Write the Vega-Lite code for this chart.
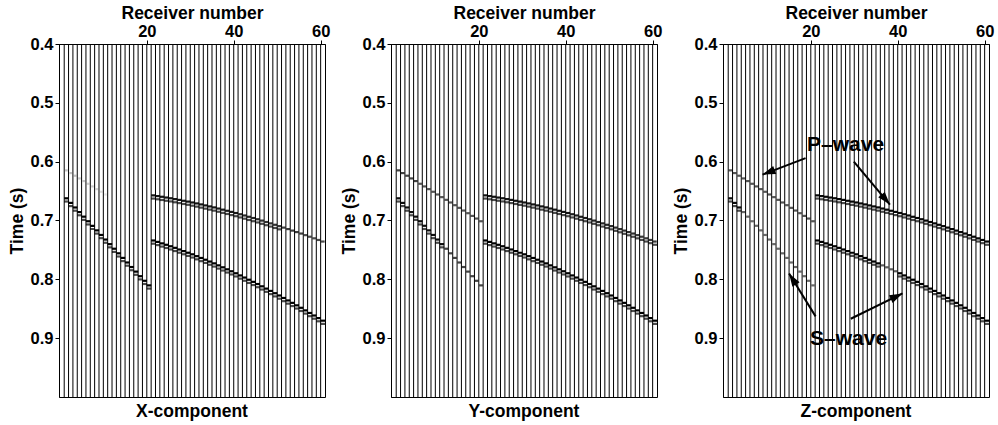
{
  "$schema": "https://vega.github.io/schema/vega-lite/v6.json",
  "padding": {"left": 7, "right": 4, "top": 3, "bottom": 2},
  "spacing": 8,
  "datasets": {
    "traces": [
      {"r":1},{"r":2},{"r":3},{"r":4},{"r":5},{"r":6},{"r":7},{"r":8},{"r":9},{"r":10},
      {"r":11},{"r":12},{"r":13},{"r":14},{"r":15},{"r":16},{"r":17},{"r":18},{"r":19},{"r":20},
      {"r":21},{"r":22},{"r":23},{"r":24},{"r":25},{"r":26},{"r":27},{"r":28},{"r":29},{"r":30},
      {"r":31},{"r":32},{"r":33},{"r":34},{"r":35},{"r":36},{"r":37},{"r":38},{"r":39},{"r":40},
      {"r":41},{"r":42},{"r":43},{"r":44},{"r":45},{"r":46},{"r":47},{"r":48},{"r":49},{"r":50},
      {"r":51},{"r":52},{"r":53},{"r":54},{"r":55},{"r":56},{"r":57},{"r":58},{"r":59},{"r":60}
    ],
    "arrivals": [
      {"r":1,"w":"P","t":0.6175,"X":0.06,"Y":0.55,"Z":0.45},
      {"r":2,"w":"P","t":0.6221,"X":0.06,"Y":0.55,"Z":0.45},
      {"r":3,"w":"P","t":0.6266,"X":0.06,"Y":0.55,"Z":0.45},
      {"r":4,"w":"P","t":0.6312,"X":0.05,"Y":0.55,"Z":0.45},
      {"r":5,"w":"P","t":0.6357,"X":0.05,"Y":0.55,"Z":0.45},
      {"r":6,"w":"P","t":0.6403,"X":0.04,"Y":0.45,"Z":0.45},
      {"r":7,"w":"P","t":0.6448,"X":0.04,"Y":0.45,"Z":0.45},
      {"r":8,"w":"P","t":0.6494,"X":0.03,"Y":0.45,"Z":0.45},
      {"r":9,"w":"P","t":0.6539,"X":0.02,"Y":0.45,"Z":0.45},
      {"r":10,"w":"P","t":0.6585,"X":0.01,"Y":0.45,"Z":0.45},
      {"r":11,"w":"P","t":0.6630,"X":0,"Y":0.45,"Z":0.45},
      {"r":12,"w":"P","t":0.6676,"X":0,"Y":0.45,"Z":0.45},
      {"r":13,"w":"P","t":0.6721,"X":0,"Y":0.45,"Z":0.45},
      {"r":14,"w":"P","t":0.6767,"X":0,"Y":0.45,"Z":0.45},
      {"r":15,"w":"P","t":0.6812,"X":0,"Y":0.45,"Z":0.45},
      {"r":16,"w":"P","t":0.6858,"X":0,"Y":0.45,"Z":0.45},
      {"r":17,"w":"P","t":0.6903,"X":0,"Y":0.45,"Z":0.45},
      {"r":18,"w":"P","t":0.6949,"X":0,"Y":0.45,"Z":0.45},
      {"r":19,"w":"P","t":0.6994,"X":0,"Y":0.45,"Z":0.45},
      {"r":20,"w":"P","t":0.7040,"X":0,"Y":0.45,"Z":0.45},
      {"r":21,"w":"P","t":0.6600,"X":0.85,"Y":0.85,"Z":0.95},
      {"r":22,"w":"P","t":0.6612,"X":0.85,"Y":0.85,"Z":0.95},
      {"r":23,"w":"P","t":0.6624,"X":0.85,"Y":0.85,"Z":0.95},
      {"r":24,"w":"P","t":0.6637,"X":0.85,"Y":0.85,"Z":0.95},
      {"r":25,"w":"P","t":0.6649,"X":0.85,"Y":0.85,"Z":0.95},
      {"r":26,"w":"P","t":0.6663,"X":0.85,"Y":0.85,"Z":0.95},
      {"r":27,"w":"P","t":0.6677,"X":0.85,"Y":0.85,"Z":0.95},
      {"r":28,"w":"P","t":0.6692,"X":0.85,"Y":0.85,"Z":0.95},
      {"r":29,"w":"P","t":0.6706,"X":0.85,"Y":0.85,"Z":0.95},
      {"r":30,"w":"P","t":0.6721,"X":0.85,"Y":0.85,"Z":0.95},
      {"r":31,"w":"P","t":0.6737,"X":0.85,"Y":0.85,"Z":0.95},
      {"r":32,"w":"P","t":0.6754,"X":0.85,"Y":0.85,"Z":0.95},
      {"r":33,"w":"P","t":0.6771,"X":0.85,"Y":0.85,"Z":0.95},
      {"r":34,"w":"P","t":0.6788,"X":0.85,"Y":0.85,"Z":0.95},
      {"r":35,"w":"P","t":0.6805,"X":0.85,"Y":0.85,"Z":0.95},
      {"r":36,"w":"P","t":0.6824,"X":0.8,"Y":0.85,"Z":0.95},
      {"r":37,"w":"P","t":0.6843,"X":0.8,"Y":0.85,"Z":0.95},
      {"r":38,"w":"P","t":0.6862,"X":0.8,"Y":0.85,"Z":0.95},
      {"r":39,"w":"P","t":0.6881,"X":0.8,"Y":0.85,"Z":0.95},
      {"r":40,"w":"P","t":0.6900,"X":0.8,"Y":0.85,"Z":0.95},
      {"r":41,"w":"P","t":0.6921,"X":0.72,"Y":0.78,"Z":0.95},
      {"r":42,"w":"P","t":0.6942,"X":0.72,"Y":0.78,"Z":0.95},
      {"r":43,"w":"P","t":0.6964,"X":0.72,"Y":0.78,"Z":0.95},
      {"r":44,"w":"P","t":0.6985,"X":0.72,"Y":0.78,"Z":0.95},
      {"r":45,"w":"P","t":0.7006,"X":0.72,"Y":0.78,"Z":0.95},
      {"r":46,"w":"P","t":0.7029,"X":0.65,"Y":0.72,"Z":0.95},
      {"r":47,"w":"P","t":0.7053,"X":0.65,"Y":0.72,"Z":0.95},
      {"r":48,"w":"P","t":0.7076,"X":0.65,"Y":0.72,"Z":0.95},
      {"r":49,"w":"P","t":0.7100,"X":0.65,"Y":0.72,"Z":0.95},
      {"r":50,"w":"P","t":0.7123,"X":0.65,"Y":0.72,"Z":0.95},
      {"r":51,"w":"P","t":0.7148,"X":0.58,"Y":0.66,"Z":0.95},
      {"r":52,"w":"P","t":0.7173,"X":0.58,"Y":0.66,"Z":0.95},
      {"r":53,"w":"P","t":0.7199,"X":0.58,"Y":0.66,"Z":0.95},
      {"r":54,"w":"P","t":0.7224,"X":0.58,"Y":0.66,"Z":0.95},
      {"r":55,"w":"P","t":0.7249,"X":0.58,"Y":0.66,"Z":0.95},
      {"r":56,"w":"P","t":0.7276,"X":0.5,"Y":0.6,"Z":0.95},
      {"r":57,"w":"P","t":0.7303,"X":0.5,"Y":0.6,"Z":0.95},
      {"r":58,"w":"P","t":0.7330,"X":0.5,"Y":0.6,"Z":0.95},
      {"r":59,"w":"P","t":0.7358,"X":0.5,"Y":0.6,"Z":0.95},
      {"r":60,"w":"P","t":0.7385,"X":0.5,"Y":0.6,"Z":0.95},
      {"r":1,"w":"S","t":0.6650,"X":1,"Y":0.9,"Z":0.9},
      {"r":2,"w":"S","t":0.6728,"X":1,"Y":0.9,"Z":0.9},
      {"r":3,"w":"S","t":0.6806,"X":1,"Y":0.9,"Z":0.9},
      {"r":4,"w":"S","t":0.6884,"X":1,"Y":0.9,"Z":0.35},
      {"r":5,"w":"S","t":0.6962,"X":1,"Y":0.9,"Z":0.35},
      {"r":6,"w":"S","t":0.7040,"X":1,"Y":0.9,"Z":0.35},
      {"r":7,"w":"S","t":0.7117,"X":1,"Y":0.9,"Z":0.35},
      {"r":8,"w":"S","t":0.7195,"X":1,"Y":0.9,"Z":0.35},
      {"r":9,"w":"S","t":0.7273,"X":1,"Y":0.9,"Z":0.35},
      {"r":10,"w":"S","t":0.7351,"X":1,"Y":0.9,"Z":0.35},
      {"r":11,"w":"S","t":0.7429,"X":1,"Y":0.9,"Z":0.35},
      {"r":12,"w":"S","t":0.7507,"X":1,"Y":0.55,"Z":0.35},
      {"r":13,"w":"S","t":0.7585,"X":1,"Y":0.55,"Z":0.35},
      {"r":14,"w":"S","t":0.7663,"X":1,"Y":0.55,"Z":0.35},
      {"r":15,"w":"S","t":0.7741,"X":1,"Y":0.55,"Z":0.35},
      {"r":16,"w":"S","t":0.7818,"X":1,"Y":0.55,"Z":0.35},
      {"r":17,"w":"S","t":0.7896,"X":1,"Y":0.55,"Z":0.35},
      {"r":18,"w":"S","t":0.7974,"X":1,"Y":0.55,"Z":0.35},
      {"r":19,"w":"S","t":0.8052,"X":1,"Y":0.55,"Z":0.35},
      {"r":20,"w":"S","t":0.8130,"X":1,"Y":0.55,"Z":0.35},
      {"r":21,"w":"S","t":0.7367,"X":1,"Y":1,"Z":1},
      {"r":22,"w":"S","t":0.7391,"X":1,"Y":1,"Z":1},
      {"r":23,"w":"S","t":0.7416,"X":1,"Y":1,"Z":1},
      {"r":24,"w":"S","t":0.7440,"X":1,"Y":1,"Z":1},
      {"r":25,"w":"S","t":0.7465,"X":1,"Y":1,"Z":1},
      {"r":26,"w":"S","t":0.7492,"X":1,"Y":1,"Z":1},
      {"r":27,"w":"S","t":0.7520,"X":1,"Y":1,"Z":1},
      {"r":28,"w":"S","t":0.7547,"X":1,"Y":1,"Z":1},
      {"r":29,"w":"S","t":0.7575,"X":1,"Y":1,"Z":1},
      {"r":30,"w":"S","t":0.7602,"X":1,"Y":1,"Z":1},
      {"r":31,"w":"S","t":0.7633,"X":1,"Y":1,"Z":1},
      {"r":32,"w":"S","t":0.7664,"X":1,"Y":1,"Z":1},
      {"r":33,"w":"S","t":0.7694,"X":1,"Y":1,"Z":1},
      {"r":34,"w":"S","t":0.7725,"X":1,"Y":1,"Z":1},
      {"r":35,"w":"S","t":0.7756,"X":1,"Y":1,"Z":1},
      {"r":36,"w":"S","t":0.7790,"X":1,"Y":1,"Z":0.4},
      {"r":37,"w":"S","t":0.7823,"X":1,"Y":1,"Z":0.4},
      {"r":38,"w":"S","t":0.7857,"X":1,"Y":1,"Z":0.4},
      {"r":39,"w":"S","t":0.7890,"X":1,"Y":1,"Z":0.4},
      {"r":40,"w":"S","t":0.7924,"X":1,"Y":1,"Z":1},
      {"r":41,"w":"S","t":0.7961,"X":1,"Y":1,"Z":1},
      {"r":42,"w":"S","t":0.7997,"X":1,"Y":1,"Z":1},
      {"r":43,"w":"S","t":0.8034,"X":1,"Y":1,"Z":1},
      {"r":44,"w":"S","t":0.8070,"X":1,"Y":1,"Z":1},
      {"r":45,"w":"S","t":0.8107,"X":1,"Y":1,"Z":1},
      {"r":46,"w":"S","t":0.8146,"X":1,"Y":1,"Z":1},
      {"r":47,"w":"S","t":0.8185,"X":1,"Y":1,"Z":1},
      {"r":48,"w":"S","t":0.8224,"X":1,"Y":1,"Z":1},
      {"r":49,"w":"S","t":0.8263,"X":1,"Y":1,"Z":1},
      {"r":50,"w":"S","t":0.8302,"X":1,"Y":1,"Z":1},
      {"r":51,"w":"S","t":0.8344,"X":1,"Y":1,"Z":1},
      {"r":52,"w":"S","t":0.8386,"X":1,"Y":1,"Z":1},
      {"r":53,"w":"S","t":0.8427,"X":1,"Y":1,"Z":1},
      {"r":54,"w":"S","t":0.8469,"X":1,"Y":1,"Z":1},
      {"r":55,"w":"S","t":0.8511,"X":1,"Y":1,"Z":1},
      {"r":56,"w":"S","t":0.8555,"X":1,"Y":1,"Z":1},
      {"r":57,"w":"S","t":0.8599,"X":1,"Y":1,"Z":1},
      {"r":58,"w":"S","t":0.8642,"X":1,"Y":1,"Z":1},
      {"r":59,"w":"S","t":0.8686,"X":1,"Y":1,"Z":1},
      {"r":60,"w":"S","t":0.8730,"X":1,"Y":1,"Z":1}
    ],
    "labels": [
      {"label":"P–wave","r":28.0,"t":0.572},
      {"label":"S–wave","r":28.7,"t":0.902}
    ],
    "arrows": [
      {"id":"p1","r0":18.8,"t0":0.594,"r1":8.9,"t1":0.622},
      {"id":"p2","r0":29.9,"t0":0.600,"r1":38.2,"t1":0.673},
      {"id":"s1","r0":21.1,"t0":0.863,"r1":15.0,"t1":0.790},
      {"id":"s2","r0":29.2,"t0":0.867,"r1":41.1,"t1":0.824}
    ]
  },
  "hconcat": [
    {
      "width": 266, "height": 353,
      "title": {"text": "X-component", "orient": "bottom", "frame": "group", "anchor": "middle", "fontSize": 17.5, "fontWeight": "bold", "offset": 5},
      "layer": [
        {
          "data": {"name": "traces"},
          "mark": {"type": "rule", "color": "black", "strokeWidth": 1},
          "encoding": {
            "x": {"field": "r", "type": "quantitative", "title": "Receiver number", "scale": {"domain": [-0.2, 61], "nice": false, "zero": false}, "axis": {"orient": "top", "values": [20, 40, 60], "tickSize": 4, "labelPadding": 1, "titlePadding": 1, "labelFlush": false}}
          }
        },
        {
          "data": {"name": "arrivals"},
          "transform": [{"filter": "datum.X > 0"}],
          "mark": {"type": "tick", "orient": "horizontal", "color": "black", "thickness": 2.2, "xOffset": 2.2, "yOffset": -1.6},
          "encoding": {
            "x": {"field": "r", "type": "quantitative", "title": "Receiver number", "scale": {"domain": [-0.2, 61], "nice": false, "zero": false}, "axis": {"orient": "top", "values": [20, 40, 60], "tickSize": 4, "labelPadding": 1, "titlePadding": 1, "labelFlush": false}},
            "y": {"field": "t", "type": "quantitative", "title": "Time (s)", "scale": {"domain": [0.4, 1.0], "reverse": true, "nice": false, "zero": false}, "axis": {"values": [0.4, 0.5, 0.6, 0.7, 0.8, 0.9], "format": ".1f", "tickSize": 4, "labelPadding": 2, "titlePadding": 4, "labelFlush": false}},
            "size": {"field": "X", "type": "quantitative", "scale": {"domain": [0, 1], "range": [2.6, 4.6]}, "legend": null},
            "opacity": {"field": "X", "type": "quantitative", "scale": {"type": "sqrt", "domain": [0, 1], "range": [0, 1]}, "legend": null}
          }
        },
        {
          "data": {"name": "arrivals"},
          "transform": [{"filter": "datum.X >= 0.6"}],
          "mark": {"type": "tick", "orient": "horizontal", "color": "black", "thickness": 2.2, "size": 4.6, "xOffset": 2.2, "yOffset": 1.6},
          "encoding": {
            "x": {"field": "r", "type": "quantitative", "title": "Receiver number", "scale": {"domain": [-0.2, 61], "nice": false, "zero": false}, "axis": {"orient": "top", "values": [20, 40, 60], "tickSize": 4, "labelPadding": 1, "titlePadding": 1, "labelFlush": false}},
            "y": {"field": "t", "type": "quantitative", "title": "Time (s)", "scale": {"domain": [0.4, 1.0], "reverse": true, "nice": false, "zero": false}, "axis": {"values": [0.4, 0.5, 0.6, 0.7, 0.8, 0.9], "format": ".1f", "tickSize": 4, "labelPadding": 2, "titlePadding": 4, "labelFlush": false}}
          }
        }
      ]
    },
    {
      "width": 266, "height": 353,
      "title": {"text": "Y-component", "orient": "bottom", "frame": "group", "anchor": "middle", "fontSize": 17.5, "fontWeight": "bold", "offset": 5},
      "layer": [
        {
          "data": {"name": "traces"},
          "mark": {"type": "rule", "color": "black", "strokeWidth": 1},
          "encoding": {
            "x": {"field": "r", "type": "quantitative", "title": "Receiver number", "scale": {"domain": [-0.2, 61], "nice": false, "zero": false}, "axis": {"orient": "top", "values": [20, 40, 60], "tickSize": 4, "labelPadding": 1, "titlePadding": 1, "labelFlush": false}}
          }
        },
        {
          "data": {"name": "arrivals"},
          "transform": [{"filter": "datum.Y > 0"}],
          "mark": {"type": "tick", "orient": "horizontal", "color": "black", "thickness": 2.2, "xOffset": 2.2, "yOffset": -1.6},
          "encoding": {
            "x": {"field": "r", "type": "quantitative", "title": "Receiver number", "scale": {"domain": [-0.2, 61], "nice": false, "zero": false}, "axis": {"orient": "top", "values": [20, 40, 60], "tickSize": 4, "labelPadding": 1, "titlePadding": 1, "labelFlush": false}},
            "y": {"field": "t", "type": "quantitative", "title": "Time (s)", "scale": {"domain": [0.4, 1.0], "reverse": true, "nice": false, "zero": false}, "axis": {"values": [0.4, 0.5, 0.6, 0.7, 0.8, 0.9], "format": ".1f", "tickSize": 4, "labelPadding": 2, "titlePadding": 4, "labelFlush": false}},
            "size": {"field": "Y", "type": "quantitative", "scale": {"domain": [0, 1], "range": [2.6, 4.6]}, "legend": null},
            "opacity": {"field": "Y", "type": "quantitative", "scale": {"type": "sqrt", "domain": [0, 1], "range": [0, 1]}, "legend": null}
          }
        },
        {
          "data": {"name": "arrivals"},
          "transform": [{"filter": "datum.Y >= 0.6"}],
          "mark": {"type": "tick", "orient": "horizontal", "color": "black", "thickness": 2.2, "size": 4.6, "xOffset": 2.2, "yOffset": 1.6},
          "encoding": {
            "x": {"field": "r", "type": "quantitative", "title": "Receiver number", "scale": {"domain": [-0.2, 61], "nice": false, "zero": false}, "axis": {"orient": "top", "values": [20, 40, 60], "tickSize": 4, "labelPadding": 1, "titlePadding": 1, "labelFlush": false}},
            "y": {"field": "t", "type": "quantitative", "title": "Time (s)", "scale": {"domain": [0.4, 1.0], "reverse": true, "nice": false, "zero": false}, "axis": {"values": [0.4, 0.5, 0.6, 0.7, 0.8, 0.9], "format": ".1f", "tickSize": 4, "labelPadding": 2, "titlePadding": 4, "labelFlush": false}}
          }
        }
      ]
    },
    {
      "width": 266, "height": 353,
      "title": {"text": "Z-component", "orient": "bottom", "frame": "group", "anchor": "middle", "fontSize": 17.5, "fontWeight": "bold", "offset": 5},
      "layer": [
        {
          "data": {"name": "traces"},
          "mark": {"type": "rule", "color": "black", "strokeWidth": 1},
          "encoding": {
            "x": {"field": "r", "type": "quantitative", "title": "Receiver number", "scale": {"domain": [-0.2, 61], "nice": false, "zero": false}, "axis": {"orient": "top", "values": [20, 40, 60], "tickSize": 4, "labelPadding": 1, "titlePadding": 1, "labelFlush": false}}
          }
        },
        {
          "data": {"name": "arrivals"},
          "transform": [{"filter": "datum.Z > 0"}],
          "mark": {"type": "tick", "orient": "horizontal", "color": "black", "thickness": 2.2, "xOffset": 2.2, "yOffset": -1.6},
          "encoding": {
            "x": {"field": "r", "type": "quantitative", "title": "Receiver number", "scale": {"domain": [-0.2, 61], "nice": false, "zero": false}, "axis": {"orient": "top", "values": [20, 40, 60], "tickSize": 4, "labelPadding": 1, "titlePadding": 1, "labelFlush": false}},
            "y": {"field": "t", "type": "quantitative", "title": "Time (s)", "scale": {"domain": [0.4, 1.0], "reverse": true, "nice": false, "zero": false}, "axis": {"values": [0.4, 0.5, 0.6, 0.7, 0.8, 0.9], "format": ".1f", "tickSize": 4, "labelPadding": 2, "titlePadding": 4, "labelFlush": false}},
            "size": {"field": "Z", "type": "quantitative", "scale": {"domain": [0, 1], "range": [2.6, 4.6]}, "legend": null},
            "opacity": {"field": "Z", "type": "quantitative", "scale": {"type": "sqrt", "domain": [0, 1], "range": [0, 1]}, "legend": null}
          }
        },
        {
          "data": {"name": "arrivals"},
          "transform": [{"filter": "datum.Z >= 0.6"}],
          "mark": {"type": "tick", "orient": "horizontal", "color": "black", "thickness": 2.2, "size": 4.6, "xOffset": 2.2, "yOffset": 1.6},
          "encoding": {
            "x": {"field": "r", "type": "quantitative", "title": "Receiver number", "scale": {"domain": [-0.2, 61], "nice": false, "zero": false}, "axis": {"orient": "top", "values": [20, 40, 60], "tickSize": 4, "labelPadding": 1, "titlePadding": 1, "labelFlush": false}},
            "y": {"field": "t", "type": "quantitative", "title": "Time (s)", "scale": {"domain": [0.4, 1.0], "reverse": true, "nice": false, "zero": false}, "axis": {"values": [0.4, 0.5, 0.6, 0.7, 0.8, 0.9], "format": ".1f", "tickSize": 4, "labelPadding": 2, "titlePadding": 4, "labelFlush": false}}
          }
        },
        {
          "data": {"name": "arrows"},
          "mark": {"type": "rule", "color": "black", "strokeWidth": 2},
          "encoding": {
            "x": {"field": "r0", "type": "quantitative", "title": "Receiver number", "scale": {"domain": [-0.2, 61], "nice": false, "zero": false}, "axis": {"orient": "top", "values": [20, 40, 60], "tickSize": 4, "labelPadding": 1, "titlePadding": 1, "labelFlush": false}},
            "y": {"field": "t0", "type": "quantitative", "title": "Time (s)", "scale": {"domain": [0.4, 1.0], "reverse": true, "nice": false, "zero": false}, "axis": {"values": [0.4, 0.5, 0.6, 0.7, 0.8, 0.9], "format": ".1f", "tickSize": 4, "labelPadding": 2, "titlePadding": 4, "labelFlush": false}},
            "x2": {"field": "r1"},
            "y2": {"field": "t1"}
          }
        },
        {
          "data": {"name": "arrows"},
          "transform": [{"filter": "datum.id == 'p1'"}],
          "mark": {"type": "point", "shape": "M0,0L-2,-0.65L-2,0.65Z", "filled": true, "color": "black", "opacity": 1, "size": 170, "angle": 159},
          "encoding": {
            "x": {"field": "r1", "type": "quantitative", "title": "Receiver number", "scale": {"domain": [-0.2, 61], "nice": false, "zero": false}, "axis": {"orient": "top", "values": [20, 40, 60], "tickSize": 4, "labelPadding": 1, "titlePadding": 1, "labelFlush": false}},
            "y": {"field": "t1", "type": "quantitative", "title": "Time (s)", "scale": {"domain": [0.4, 1.0], "reverse": true, "nice": false, "zero": false}, "axis": {"values": [0.4, 0.5, 0.6, 0.7, 0.8, 0.9], "format": ".1f", "tickSize": 4, "labelPadding": 2, "titlePadding": 4, "labelFlush": false}}
          }
        },
        {
          "data": {"name": "arrows"},
          "transform": [{"filter": "datum.id == 'p2'"}],
          "mark": {"type": "point", "shape": "M0,0L-2,-0.65L-2,0.65Z", "filled": true, "color": "black", "opacity": 1, "size": 170, "angle": 50},
          "encoding": {
            "x": {"field": "r1", "type": "quantitative", "title": "Receiver number", "scale": {"domain": [-0.2, 61], "nice": false, "zero": false}, "axis": {"orient": "top", "values": [20, 40, 60], "tickSize": 4, "labelPadding": 1, "titlePadding": 1, "labelFlush": false}},
            "y": {"field": "t1", "type": "quantitative", "title": "Time (s)", "scale": {"domain": [0.4, 1.0], "reverse": true, "nice": false, "zero": false}, "axis": {"values": [0.4, 0.5, 0.6, 0.7, 0.8, 0.9], "format": ".1f", "tickSize": 4, "labelPadding": 2, "titlePadding": 4, "labelFlush": false}}
          }
        },
        {
          "data": {"name": "arrows"},
          "transform": [{"filter": "datum.id == 's1'"}],
          "mark": {"type": "point", "shape": "M0,0L-2,-0.65L-2,0.65Z", "filled": true, "color": "black", "opacity": 1, "size": 170, "angle": 238},
          "encoding": {
            "x": {"field": "r1", "type": "quantitative", "title": "Receiver number", "scale": {"domain": [-0.2, 61], "nice": false, "zero": false}, "axis": {"orient": "top", "values": [20, 40, 60], "tickSize": 4, "labelPadding": 1, "titlePadding": 1, "labelFlush": false}},
            "y": {"field": "t1", "type": "quantitative", "title": "Time (s)", "scale": {"domain": [0.4, 1.0], "reverse": true, "nice": false, "zero": false}, "axis": {"values": [0.4, 0.5, 0.6, 0.7, 0.8, 0.9], "format": ".1f", "tickSize": 4, "labelPadding": 2, "titlePadding": 4, "labelFlush": false}}
          }
        },
        {
          "data": {"name": "arrows"},
          "transform": [{"filter": "datum.id == 's2'"}],
          "mark": {"type": "point", "shape": "M0,0L-2,-0.65L-2,0.65Z", "filled": true, "color": "black", "opacity": 1, "size": 170, "angle": -26},
          "encoding": {
            "x": {"field": "r1", "type": "quantitative", "title": "Receiver number", "scale": {"domain": [-0.2, 61], "nice": false, "zero": false}, "axis": {"orient": "top", "values": [20, 40, 60], "tickSize": 4, "labelPadding": 1, "titlePadding": 1, "labelFlush": false}},
            "y": {"field": "t1", "type": "quantitative", "title": "Time (s)", "scale": {"domain": [0.4, 1.0], "reverse": true, "nice": false, "zero": false}, "axis": {"values": [0.4, 0.5, 0.6, 0.7, 0.8, 0.9], "format": ".1f", "tickSize": 4, "labelPadding": 2, "titlePadding": 4, "labelFlush": false}}
          }
        },
        {
          "data": {"name": "labels"},
          "mark": {"type": "text", "color": "black", "font": "Liberation Sans", "fontSize": 21, "fontWeight": "bold", "align": "center", "baseline": "middle"},
          "encoding": {
            "x": {"field": "r", "type": "quantitative", "title": "Receiver number", "scale": {"domain": [-0.2, 61], "nice": false, "zero": false}, "axis": {"orient": "top", "values": [20, 40, 60], "tickSize": 4, "labelPadding": 1, "titlePadding": 1, "labelFlush": false}},
            "y": {"field": "t", "type": "quantitative", "title": "Time (s)", "scale": {"domain": [0.4, 1.0], "reverse": true, "nice": false, "zero": false}, "axis": {"values": [0.4, 0.5, 0.6, 0.7, 0.8, 0.9], "format": ".1f", "tickSize": 4, "labelPadding": 2, "titlePadding": 4, "labelFlush": false}},
            "text": {"field": "label"}
          }
        }
      ]
    }
  ],
  "config": {
    "font": "Liberation Sans",
    "view": {"stroke": "black", "strokeWidth": 1},
    "axis": {
      "grid": false,
      "labelFont": "Liberation Sans", "titleFont": "Liberation Sans",
      "labelFontSize": 16.5, "titleFontSize": 17.5,
      "labelFontWeight": "bold", "titleFontWeight": "bold",
      "labelColor": "black", "titleColor": "black",
      "domainColor": "black", "tickColor": "black"
    },
    "title": {"font": "Liberation Sans", "color": "black"}
  }
}
